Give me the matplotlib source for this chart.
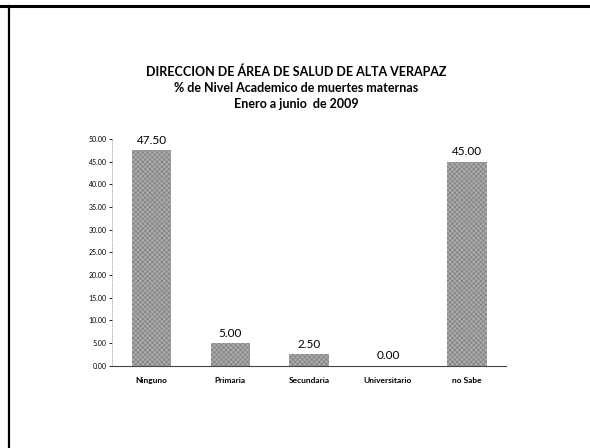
import numpy as np
import matplotlib.pyplot as plt

categorias = ["Ninguno", "Primaria", "Secundaria", "Universitario", "no Sabe"]
porcentajes = [47.50, 5.00, 2.50, 0.00, 45.00]
yticks = [0, 5, 10, 15, 20, 25, 30, 35, 40, 45, 50]

titulo = ("DIRECCION DE ÁREA DE SALUD DE ALTA VERAPAZ\n"
          "% de Nivel Academico de muertes maternas\n"
          "Enero a junio  de 2009")

plt.rcParams['font.family'] = ['Lato', 'DejaVu Sans']
plt.rcParams['hatch.linewidth'] = 0.4

fig = plt.figure(figsize=(5.9, 4.48), dpi=100)
ax = fig.add_axes([0.19, 0.184, 0.668, 0.506])

x = np.arange(len(categorias))
bars = ax.bar(x, porcentajes, width=0.5, color="#a9a9a9", hatch="xxxxxxx",
              edgecolor="#7a7a7a", linewidth=0)

for xi, v in zip(x, porcentajes):
    ax.annotate(f"{v:.2f}", (xi, v), xytext=(0, 3), textcoords="offset points",
                ha="center", va="bottom", fontsize=8.5)

ax.set_xlim(-0.5, 4.5)
ax.set_ylim(0, 50)
ax.set_yticks(yticks)
ax.set_yticklabels([f"{t:.2f}" for t in yticks], fontsize=5)
ax.set_xticks(x)
ax.set_xticklabels(categorias, fontsize=6, fontweight="bold")
ax.tick_params(axis="x", length=0, pad=8)
ax.tick_params(axis="y", length=2, width=0.6, pad=2)

for s in ["top", "right"]:
    ax.spines[s].set_visible(False)
ax.spines["left"].set_color("#aaaaaa")
ax.spines["left"].set_linestyle((0, (1, 2)))
ax.spines["left"].set_linewidth(0.6)
ax.spines["bottom"].set_color("#444444")
ax.spines["bottom"].set_linewidth(0.8)

fig.text(0.502, 0.853, titulo, ha="center", va="top", fontsize=9,
         fontweight="bold", linespacing=1.4)

# frame lines (top and left edges of the scanned page)
fig.add_artist(plt.Line2D([0, 1], [0.986, 0.986], color="black", lw=2.2))
fig.add_artist(plt.Line2D([0.015, 0.015], [0, 0.986], color="black", lw=1.6))

fig.savefig("out.png", dpi=100)
